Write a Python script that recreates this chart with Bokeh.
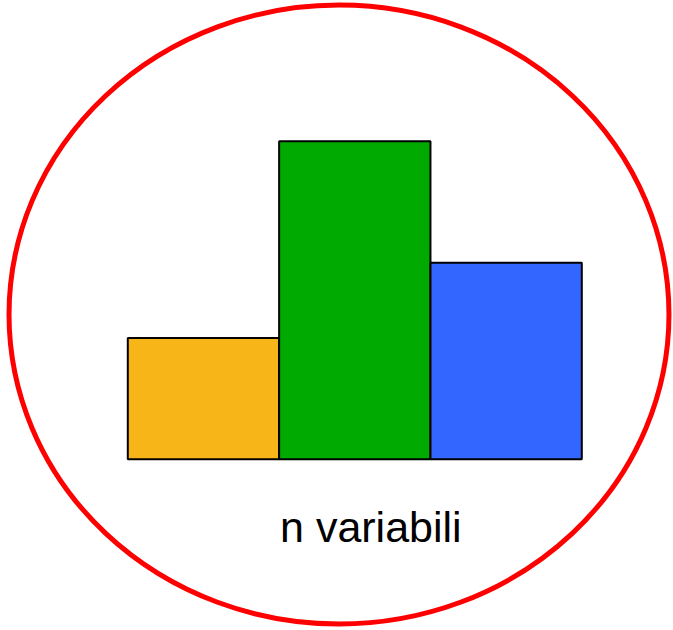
from bokeh.plotting import figure
from bokeh.models import Range1d, ColumnDataSource
from bokeh.core.properties import value
from bokeh.embed import file_html
from bokeh.resources import INLINE

# data
categories = ["A", "B", "C"]
values = [3.05, 8.0, 4.94]
colors = ["#F7B518", "#00AA00", "#3366FF"]
label = "n variabili"

positions = list(range(len(categories)))

W, H = 673, 630
p = figure(width=W, height=H, output_backend="svg", toolbar_location=None,
           x_range=Range1d(-1.3412, 3.106), y_range=Range1d(-4.309, 11.540),
           min_border=0, background_fill_color="white", border_fill_color="white")
p.axis.visible = False
p.grid.visible = False
p.outline_line_color = None

src = ColumnDataSource(dict(x=positions, top=values, color=colors, cat=categories))
p.vbar(x="x", top="top", bottom=0, width=1.0, fill_color="color",
       line_color="black", line_width=2, source=src)

p.ellipse(x=[0.8956], y=[3.64], width=[4.361], height=[15.57],
          fill_color=None, line_color="#FF0000", line_width=5)

p.text(x=[1.106], y=[-1.71], text=[label], text_font=value("Liberation Sans"),
       text_font_size="43px", text_align="center", text_baseline="alphabetic",
       text_color="black")

open("out.html", "w").write(file_html(p, INLINE))
